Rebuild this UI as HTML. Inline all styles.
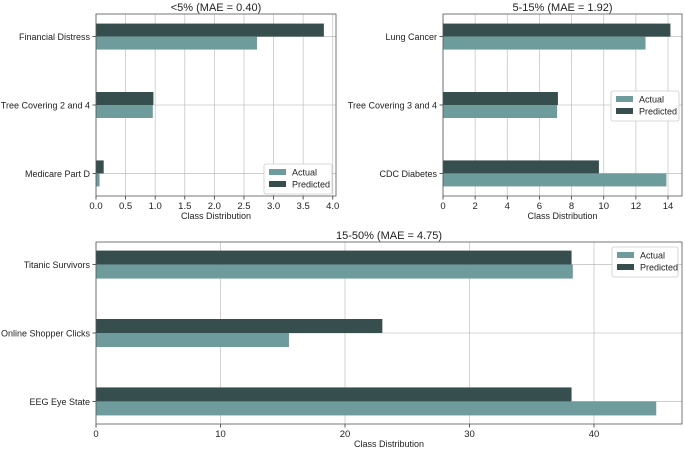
<!DOCTYPE html>
<html><head><meta charset="utf-8"><style>
body{margin:0;background:#fff}
svg{display:block;font-family:"Liberation Sans","DejaVu Sans",sans-serif}
</style></head><body>
<svg id="c" width="685" height="449"></svg>
<script>
const cats1=["Financial Distress","Tree Covering 2 and 4","Medicare Part D"];
const actual1=[2.72,0.96,0.06];
const pred1=[3.85,0.97,0.13];
const ticks1=[0,0.5,1,1.5,2,2.5,3,3.5,4];
const tickLabels1=["0.0","0.5","1.0","1.5","2.0","2.5","3.0","3.5","4.0"];
const cats2=["Lung Cancer","Tree Covering 3 and 4","CDC Diabetes"];
const actual2=[12.6,7.1,13.9];
const pred2=[14.15,7.15,9.7];
const ticks2=[0,2,4,6,8,10,12,14];
const cats3=["Titanic Survivors","Online Shopper Clicks","EEG Eye State"];
const actual3=[38.3,15.5,45];
const pred3=[38.2,23,38.2];
const ticks3=[0,10,20,30,40];
const titles=["<5% (MAE = 0.40)","5-15% (MAE = 1.92)","15-50% (MAE = 4.75)"];

const NS="http://www.w3.org/2000/svg";
const svg=document.getElementById('c');
function mk(tag,attrs,parent,text){const e=document.createElementNS(NS,tag);for(const k in attrs)e.setAttribute(k,attrs[k]);if(text!==undefined)e.textContent=text;(parent||svg).appendChild(e);return e;}

function panel(o){
  const g=mk('g',{});
  
  
  const x=v=>o.x0+(v-0)/(o.xmax)*(o.x1-o.x0);
  const n=o.cats.length;
  const y=i=>o.y0+(i+0.33)/(n-1+0.66)*(o.y1-o.y0);
  o.ticks.forEach((t,i)=>{
    const l=mk('line',{x1:x(t),x2:x(t),y1:o.y0,y2:o.y1,stroke:'#b0b0b0','stroke-width':0.8,opacity:0.7},g);
    
    mk('line',{x1:x(t),x2:x(t),y1:o.y1,y2:o.y1+3.5,stroke:'#333','stroke-width':0.8},g);
    const tx=mk('text',{x:x(t),y:o.y1+13,'font-size':9.5,'text-anchor':'middle',fill:'#222'},g,o.tickLabels?o.tickLabels[i]:String(t));
    
  });
  o.cats.forEach((c,i)=>{
    const l=mk('line',{x1:o.x0,x2:o.x1,y1:y(i),y2:y(i),stroke:'#b0b0b0','stroke-width':0.8,opacity:0.7},g);
    
  });
  const bh=o.bh;
  o.cats.forEach((c,i)=>{
    const bp=mk('rect',{x:x(0),y:y(i)-bh,width:x(o.pred[i])-x(0),height:bh,fill:'#364e4e'},g);
    
    const ba=mk('rect',{x:x(0),y:y(i),width:x(o.actual[i])-x(0),height:bh,fill:'#6e9c9d'},g);
    
    mk('line',{x1:o.x0-3.5,x2:o.x0,y1:y(i),y2:y(i),stroke:'#333','stroke-width':0.8},g);
    const t=mk('text',{x:o.x0-6,y:y(i)+3.5,'font-size':o.fs,'text-anchor':'end',fill:'#222'},g,c);
    
  });
  mk('rect',{x:o.x0,y:o.y0,width:o.x1-o.x0,height:o.y1-o.y0,fill:'none',stroke:'#555','stroke-width':0.8},g);
  const tt=mk('text',{x:(o.x0+o.x1)/2,y:o.y0-3,'font-size':11,'text-anchor':'middle',fill:'#222'},g,o.title);
  
  const xl=mk('text',{x:(o.x0+o.x1)/2,y:o.y1+23,'font-size':9,'text-anchor':'middle',fill:'#222'},g,'Class Distribution');
  
  const lg=mk('g',{},g);
  
  const lx=o.lx,ly=o.ly;
  mk('rect',{x:lx,y:ly,width:o.lw,height:30,fill:'#fff',stroke:'#ccc','stroke-width':0.8,rx:2},lg);
  [['Actual','#6e9c9d'],['Predicted','#364e4e']].forEach((s,k)=>{
    mk('rect',{x:lx+5,y:ly+5+k*12,width:17,height:6,fill:s[1]},lg);
    const e=mk('text',{x:lx+28,y:ly+11.5+k*12,'font-size':9,fill:'#222'},lg,s[0]);
    
  });
}
panel({name:'panel-under-5',x0:96,x1:336,y0:14,y1:196,xmax:4.055,cats:cats1,actual:actual1,pred:pred1,ticks:ticks1,tickLabels:tickLabels1,title:titles[0],bh:13,fs:9,lx:264,ly:164,lw:68});
panel({name:'panel-5-15',x0:443,x1:682,y0:14,y1:196,xmax:14.87,cats:cats2,actual:actual2,pred:pred2,ticks:ticks2,title:titles[1],bh:13,fs:9,lx:611,ly:91,lw:68});
panel({name:'panel-15-50',x0:96,x1:682,y0:242,y1:424,xmax:47.07,cats:cats3,actual:actual3,pred:pred3,ticks:ticks3,title:titles[2],bh:14,fs:9,lx:612,ly:247,lw:66});
</script>
</body></html>
